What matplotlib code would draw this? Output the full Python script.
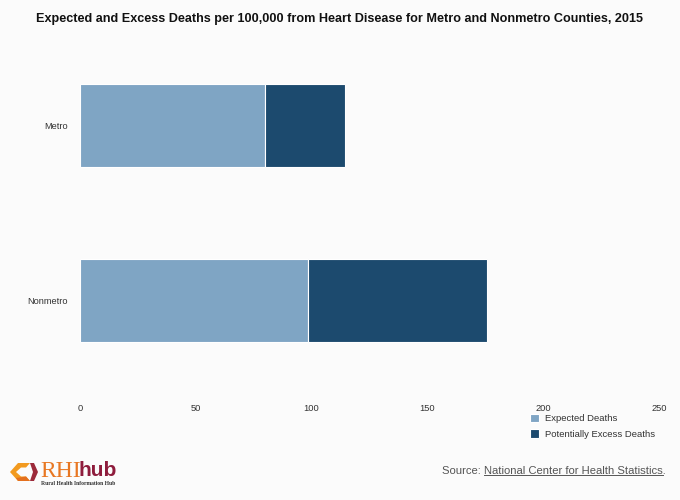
import numpy as np
import matplotlib.pyplot as plt
from matplotlib.patches import Polygon

categories = ['Metro', 'Nonmetro']
expected = [79.9, 98.5]
excess = [34.4, 77.2]
xticks = [0, 50, 100, 150, 200, 250]

plt.rcParams['font.family'] = ['Liberation Sans', 'DejaVu Sans']
bg = '#fbfbfb'
c_exp = '#7fa5c4'
c_exc = '#1c4a6e'

fig = plt.figure(figsize=(6.8, 5), dpi=100, facecolor=bg)
ax = fig.add_axes([80/680, 1-388/500, 579/680, 350/500])
ax.set_facecolor(bg)

y = np.arange(len(categories))
ax.barh(y, expected, height=0.476, color=c_exp, edgecolor='white', linewidth=0.8, label='Expected Deaths')
ax.barh(y, excess, left=expected, height=0.476, color=c_exc, edgecolor='white', linewidth=0.8,
        label='Potentially Excess Deaths')
ax.set_ylim(1.5, -0.5)
ax.set_xlim(0, 250)
ax.set_yticks(y)
ax.set_yticklabels(categories, fontsize=6.7, color='#333333')
ax.set_xticks(xticks)
ax.set_xticklabels([str(t) for t in xticks], fontsize=6.7, color='#333333')
ax.tick_params(axis='x', length=0, pad=11.5)
ax.tick_params(axis='y', length=0, pad=8.6)
for s in ax.spines.values():
    s.set_visible(False)

fig.text(0.5, 1-19/500, 'Expected and Excess Deaths per 100,000 from Heart Disease for Metro and Nonmetro Counties, 2015',
         ha='center', va='center', fontsize=9.1, fontweight='bold', color='#111111')

leg = fig.legend(loc='upper left', bbox_to_anchor=(530/680, 1-414/500), frameon=False, fontsize=6.8,
                 handlelength=1.0, handleheight=1.0, handletextpad=0.55, labelspacing=0.6,
                 borderaxespad=0, borderpad=0)
for t in leg.get_texts():
    t.set_color('#333333')

# source line
src = fig.text(666/680, 1-471/500, 'National Center for Health Statistics.', ha='right', va='center',
               fontsize=8.15, color='#555555')
fig.canvas.draw()
bb = src.get_window_extent()
fig.text(bb.x0/680, 1-471/500, 'Source: ', ha='right', va='center', fontsize=8.15, color='#555555')
uy = (bb.y0 + 1) / 500
fig.add_artist(plt.Line2D([bb.x0/680, (bb.x1 - 3)/680], [uy, uy], color='#555555', linewidth=0.7))

# logo
lx = fig.add_axes([0, 0, 1, 1], facecolor='none')
lx.set_xlim(0, 680)
lx.set_ylim(500, 0)
lx.axis('off')
lx.add_patch(Polygon([[18, 463], [30, 463], [26, 467.5], [21, 467.5], [16, 472], [21, 476.5], [26, 476.5], [30, 481],
                      [18, 481], [10, 472]], closed=True, color='#f29a1f', lw=0))
lx.add_patch(Polygon([[30, 463], [34, 463], [38, 472], [34, 481], [30, 481], [33, 472]],
                     closed=True, color='#9c2a3a', lw=0))
lx.add_patch(Polygon([[26, 476.5], [30, 481], [18, 481], [16, 478]], closed=True, color='#e4701e', lw=0))
lx.text(40, 471.5, 'RHI', fontsize=17, family='Liberation Serif', color='#e87722', va='center', ha='left')
lx.text(79, 471, 'hub', fontsize=15, fontweight='bold', color='#8e1c3c', va='center', ha='left')
lx.text(41, 483.5, 'Rural Health Information Hub', fontsize=4.1, family='Liberation Serif', color='#333333',
        va='center', fontweight='bold')

fig.savefig('out.png', dpi=100, facecolor=bg)
